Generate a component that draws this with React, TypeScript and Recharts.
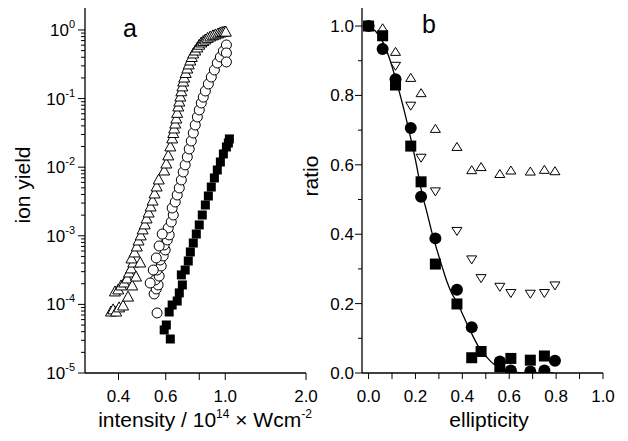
import React from "react";
import { ScatterChart, Scatter, XAxis, YAxis, Label } from "recharts";

const FONT = "'Liberation Sans', Arial, Helvetica, sans-serif";

// panel a: ion yield vs intensity (log-log)
const triIntensity = [
  0.375, 0.382, 0.392, 0.402, 0.416, 0.388, 0.399, 0.409, 0.42, 0.431, 0.438,
  0.446, 0.454, 0.447, 0.459, 0.468, 0.475, 0.484, 0.492, 0.501, 0.509, 0.518,
  0.527, 0.536, 0.545, 0.555, 0.565, 0.592, 0.603, 0.613, 0.624, 0.634, 0.64,
  0.645, 0.651, 0.657, 0.662, 0.668, 0.674, 0.68, 0.686, 0.692, 0.697, 0.703,
  0.712, 0.722, 0.731, 0.741, 0.75, 0.76, 0.773, 0.787, 0.8, 0.814, 0.828,
  0.843, 0.86, 0.88, 0.9, 0.919, 0.94, 0.959, 0.975, 0.992, 1.005,
  // right edge of the lower band
  0.434, 0.45, 0.465, 0.482,
];
const triYield = [
  8.0e-5, 8.6e-5, 8.0e-5, 9.2e-5, 9.8e-5, 1.57e-4, 1.68e-4, 1.92e-4, 2.12e-4,
  2.43e-4, 2.97e-4, 3.4e-4, 4.15e-4, 4.75e-4, 5.81e-4, 7.1e-4, 8.69e-4,
  1.03e-3, 1.26e-3, 1.49e-3, 1.82e-3, 2.22e-3, 2.72e-3, 3.32e-3, 4.21e-3,
  5.32e-3, 6.73e-3, 9.1e-3, 1.15e-2, 1.51e-2, 2.04e-2, 2.67e-2, 3.2e-2,
  3.73e-2, 4.4e-2, 5.21e-2, 6.3e-2, 7.8e-2, 9.2e-2, 0.109, 0.13, 0.153, 0.18,
  0.206, 0.24, 0.279, 0.32, 0.365, 0.41, 0.462, 0.51, 0.565, 0.62, 0.668, 0.7,
  0.739, 0.78, 0.818, 0.85, 0.875, 0.905, 0.935, 0.95, 0.967, 0.96,
  1.32e-4, 1.92e-4, 2.59e-4, 4.15e-4,
];

const circIntensity = [
  0.557, 0.543, 0.553, 0.562, 0.548, 0.567, 0.557, 0.577, 0.572, 0.587, 0.597,
  0.592, 0.608, 0.618, 0.613, 0.629, 0.64, 0.634, 0.651, 0.662, 0.674, 0.686,
  0.697, 0.709, 0.722, 0.734, 0.747, 0.76, 0.773, 0.787, 0.8, 0.814, 0.828,
  0.843, 0.865, 0.887, 0.911, 0.934, 0.959, 0.984, 1.01, 1.01, 1.01,
  // left edge of the lower band
  0.525, 0.539, 0.553, 0.567, 0.582,
];
const circYield = [
  7.5e-5, 1.42e-4, 1.68e-4, 1.92e-4, 2.27e-4, 2.59e-4, 3.17e-4, 3.63e-4,
  4.44e-4, 5.08e-4, 6.21e-4, 7.34e-4, 8.69e-4, 1.03e-3, 1.3e-3, 1.59e-3,
  2.01e-3, 2.54e-3, 3.11e-3, 3.93e-3, 4.98e-3, 6.51e-3, 8.51e-3, 1.08e-2,
  1.41e-2, 1.84e-2, 2.41e-2, 3.15e-2, 4.12e-2, 5.39e-2, 6.82e-2, 8.63e-2,
  0.105, 0.129, 0.163, 0.206, 0.261, 0.33, 0.404, 0.494, 0.604, 0.462, 0.342,
  2.05e-4, 3.17e-4, 4.75e-4, 7.1e-4, 1.06e-3,
];

const sqIntensity = [
  0.624, 0.592, 0.603, 0.618, 0.634, 0.662, 0.674, 0.692, 0.686, 0.709, 0.728,
  0.741, 0.76, 0.78, 0.8, 0.821, 0.843, 0.865, 0.887, 0.911, 0.934, 0.959,
  0.984, 1.01, 1.027, 1.036,
];
const sqYield = [
  3.13e-5, 4.24e-5, 5.01e-5, 7.75e-5, 9.8e-5, 1.12e-4, 1.47e-4, 1.92e-4,
  2.69e-4, 3.17e-4, 4.29e-4, 5.81e-4, 7.85e-4, 1.06e-3, 1.44e-3, 2.01e-3,
  2.81e-3, 3.8e-3, 5.14e-3, 6.96e-3, 9.1e-3, 1.19e-2, 1.56e-2, 1.97e-2,
  2.25e-2, 2.58e-2,
];

const xTicksA = [0.4, 0.6, 0.8, 1.0, 2.0];
const xTickLabelsA = ["0.4", "0.6", "", "1.0", "2.0"];
const decadesA = [1e-5, 1e-4, 1e-3, 1e-2, 1e-1, 1];
const decadeExpA = ["-5", "-4", "-3", "-2", "-1", "0"];
const minorStepsA = [2, 3, 4, 5, 6, 7, 8, 9];

// panel b: ratio vs ellipticity
const sqEll = [0, 0.06, 0.115, 0.18, 0.224, 0.285, 0.377, 0.44, 0.48, 0.56, 0.607, 0.69, 0.75];
const sqRatio = [1.0, 0.972, 0.83, 0.654, 0.551, 0.314, 0.199, 0.044, 0.062, 0.018, 0.042, 0.037, 0.049];

const circEll = [0, 0.06, 0.115, 0.18, 0.224, 0.285, 0.377, 0.44, 0.56, 0.607, 0.69, 0.75, 0.795];
const circRatio = [1.0, 0.934, 0.847, 0.706, 0.508, 0.388, 0.24, 0.132, 0.033, 0.007, 0.004, 0.007, 0.035];

const upEll = [0, 0.06, 0.115, 0.18, 0.224, 0.285, 0.377, 0.44, 0.48, 0.56, 0.607, 0.69, 0.75, 0.795];
const upRatio = [1.0, 0.995, 0.927, 0.852, 0.808, 0.705, 0.653, 0.586, 0.595, 0.575, 0.585, 0.582, 0.587, 0.583];

const downEll = [0, 0.06, 0.115, 0.18, 0.224, 0.285, 0.377, 0.44, 0.48, 0.56, 0.607, 0.69, 0.75, 0.795];
const downRatio = [1.0, 0.97, 0.884, 0.769, 0.619, 0.522, 0.408, 0.326, 0.272, 0.247, 0.229, 0.227, 0.229, 0.251];

const fitEll = [
  0, 0.03, 0.06, 0.09, 0.115, 0.145, 0.172, 0.2, 0.228, 0.25, 0.271, 0.292,
  0.314, 0.335, 0.356, 0.377, 0.406, 0.441, 0.47, 0.505, 0.535, 0.562, 0.6,
  0.633, 0.68, 0.79,
];
const fitRatio = [
  1.0, 0.985, 0.955, 0.905, 0.849, 0.775, 0.7, 0.614, 0.518, 0.46, 0.403,
  0.354, 0.306, 0.262, 0.228, 0.205, 0.162, 0.112, 0.075, 0.045, 0.025, 0.015,
  0.006, 0.002, 0.0, 0.0,
];

const ticksB = [0, 0.1, 0.2, 0.3, 0.4, 0.5, 0.6, 0.7, 0.8, 0.9, 1.0];
const tickLabelsB = ["0.0", "", "0.2", "", "0.4", "", "0.6", "", "0.8", "", "1.0"];

const zip = (xs: number[], ys: number[]) => xs.map((x, i) => ({ x, y: ys[i] }));

const yTicksA = decadesA.flatMap((d) => [d, ...minorStepsA.map((m) => m * d)]).filter((v) => v <= 1);

// marker shapes
const triangle = (w: number, h: number, up: boolean) => (p: any) => {
  const { cx, cy } = p;
  const d = up
    ? `M${cx},${cy - h / 2}L${cx + w / 2},${cy + h / 2}L${cx - w / 2},${cy + h / 2}Z`
    : `M${cx},${cy + h / 2}L${cx + w / 2},${cy - h / 2}L${cx - w / 2},${cy - h / 2}Z`;
  return <path d={d} fill="#fff" stroke="#000" strokeWidth={1} />;
};
const openCircle = (r: number) => (p: any) => (
  <circle cx={p.cx} cy={p.cy} r={r} fill="#fff" stroke="#000" strokeWidth={1} />
);
const dot = (r: number) => (p: any) => <circle cx={p.cx} cy={p.cy} r={r} fill="#000" />;
const square = (s: number) => (p: any) => (
  <rect x={p.cx - s / 2} y={p.cy - s / 2} width={s} height={s} fill="#000" />
);
const noShape = () => <g />;

const LogYTick = (props: any) => {
  const { x, y, payload } = props;
  const i = decadesA.indexOf(payload.value);
  const major = i >= 0;
  return (
    <g>
      <line x1={x - (major ? 7 : 4)} x2={x} y1={y} y2={y} stroke="#000" strokeWidth={1} />
      {major && (
        <text x={x - 10} y={y + 6} textAnchor="end" fontSize={17} fontFamily={FONT} fill="#000">
          10
          <tspan fontSize={11} dy={-8}>
            {decadeExpA[i]}
          </tspan>
        </text>
      )}
    </g>
  );
};

const LogXTick = (props: any) => {
  const { x, y, payload } = props;
  const i = xTicksA.indexOf(payload.value);
  return (
    <g>
      <line x1={x} x2={x} y1={y} y2={y + 7} stroke="#000" strokeWidth={1} />
      <text x={x} y={y + 29} textAnchor="middle" fontSize={17} fontFamily={FONT} fill="#000">
        {xTickLabelsA[i]}
      </text>
    </g>
  );
};

const LinXTick = (props: any) => {
  const { x, y, payload } = props;
  const i = ticksB.indexOf(payload.value);
  return (
    <g>
      <line x1={x} x2={x} y1={y} y2={y + 6} stroke="#000" strokeWidth={1} />
      <text x={x} y={y + 29} textAnchor="middle" fontSize={17} fontFamily={FONT} fill="#000">
        {tickLabelsB[i]}
      </text>
    </g>
  );
};

const LinYTick = (props: any) => {
  const { x, y, payload } = props;
  const i = ticksB.indexOf(payload.value);
  const major = tickLabelsB[i] !== "";
  return (
    <g>
      <line x1={x - (major ? 7 : 4)} x2={x} y1={y} y2={y} stroke="#000" strokeWidth={1} />
      <text x={x - 8} y={y + 6} textAnchor="end" fontSize={17} fontFamily={FONT} fill="#000">
        {tickLabelsB[i]}
      </text>
    </g>
  );
};

const IntensityTitle = () => (
  <text x={205} y={427} textAnchor="middle" fontSize={21} fontFamily={FONT} fill="#000">
    intensity / 10
    <tspan fontSize={12} dy={-9}>14</tspan>
    <tspan dy={9}> × Wcm</tspan>
    <tspan fontSize={12} dy={-9}>-2</tspan>
  </text>
);

const YieldTitle = () => (
  <text x={30} y={185} transform="rotate(-90, 30, 185)" textAnchor="middle" fontSize={21} fontFamily={FONT} fill="#000">
    ion yield
  </text>
);

const EllipticityTitle = () => (
  <text x={189} y={427} textAnchor="middle" fontSize={21} fontFamily={FONT} fill="#000">
    ellipticity
  </text>
);

const RatioTitle = () => (
  <text x={18} y={176} transform="rotate(-90, 18, 176)" textAnchor="middle" fontSize={21} fontFamily={FONT} fill="#000">
    ratio
  </text>
);

const axisLine = { stroke: "#000", strokeWidth: 1.3 };

function App() {
  return (
    <div style={{ position: "absolute", left: 0, top: 0, width: 628, height: 441, background: "#fff" }}>
      <div style={{ position: "absolute", left: 0, top: 0 }}>
        <ScatterChart width={320} height={441} margin={{ top: 8, right: 14, bottom: 0, left: 0 }}>
          <XAxis
            dataKey="x"
            type="number"
            scale="log"
            domain={[0.3, 2]}
            allowDataOverflow
            ticks={xTicksA}
            interval={0}
            tick={<LogXTick />}
            tickLine={false}
            tickSize={0}
            tickMargin={0}
            axisLine={axisLine}
            height={68}
          >
            <Label content={<IntensityTitle />} />
          </XAxis>
          <YAxis
            dataKey="y"
            type="number"
            scale="log"
            domain={[1e-5, 2.09]}
            allowDataOverflow
            ticks={yTicksA}
            interval={0}
            tick={<LogYTick />}
            tickLine={false}
            tickSize={0}
            tickMargin={0}
            axisLine={axisLine}
            width={85}
          >
            <Label content={<YieldTitle />} />
          </YAxis>
          <Scatter data={zip(triIntensity, triYield)} shape={triangle(11, 10, true)} isAnimationActive={false} />
          <Scatter data={zip(circIntensity, circYield)} shape={openCircle(5)} isAnimationActive={false} />
          <Scatter data={zip(sqIntensity, sqYield)} shape={square(9)} isAnimationActive={false} />
        </ScatterChart>
      </div>
      <div style={{ position: "absolute", left: 300, top: 0 }}>
        <ScatterChart width={328} height={441} margin={{ top: 8, right: 25, bottom: 0, left: 0 }}>
          <XAxis
            dataKey="x"
            type="number"
            domain={[-0.028, 1.0]}
            allowDataOverflow
            ticks={ticksB}
            interval={0}
            tick={<LinXTick />}
            tickLine={false}
            tickSize={0}
            tickMargin={0}
            axisLine={axisLine}
            height={68}
          >
            <Label content={<EllipticityTitle />} />
          </XAxis>
          <YAxis
            dataKey="y"
            type="number"
            domain={[0, 1.052]}
            allowDataOverflow
            ticks={ticksB}
            interval={0}
            tick={<LinYTick />}
            tickLine={false}
            tickSize={0}
            tickMargin={0}
            axisLine={axisLine}
            width={62}
          >
            <Label content={<RatioTitle />} />
          </YAxis>
          <Scatter
            data={zip(fitEll, fitRatio)}
            line={{ stroke: "#000", strokeWidth: 1.3 }}
            lineJointType="monotoneX"
            shape={noShape}
            isAnimationActive={false}
          />
          <Scatter data={zip(upEll, upRatio)} shape={triangle(10, 8, true)} isAnimationActive={false} />
          <Scatter data={zip(downEll, downRatio)} shape={triangle(10, 8, false)} isAnimationActive={false} />
          <Scatter data={zip(sqEll, sqRatio)} shape={square(11)} isAnimationActive={false} />
          <Scatter data={zip(circEll, circRatio)} shape={dot(6)} isAnimationActive={false} />
        </ScatterChart>
      </div>
      <svg width={628} height={441} style={{ position: "absolute", left: 0, top: 0, pointerEvents: "none" }}>
        <text x={123} y={37} fontSize={25} fontFamily={FONT} fill="#000">
          a
        </text>
        <text x={422} y={33} fontSize={25} fontFamily={FONT} fill="#000">
          b
        </text>
      </svg>
    </div>
  );
}

export default App;
